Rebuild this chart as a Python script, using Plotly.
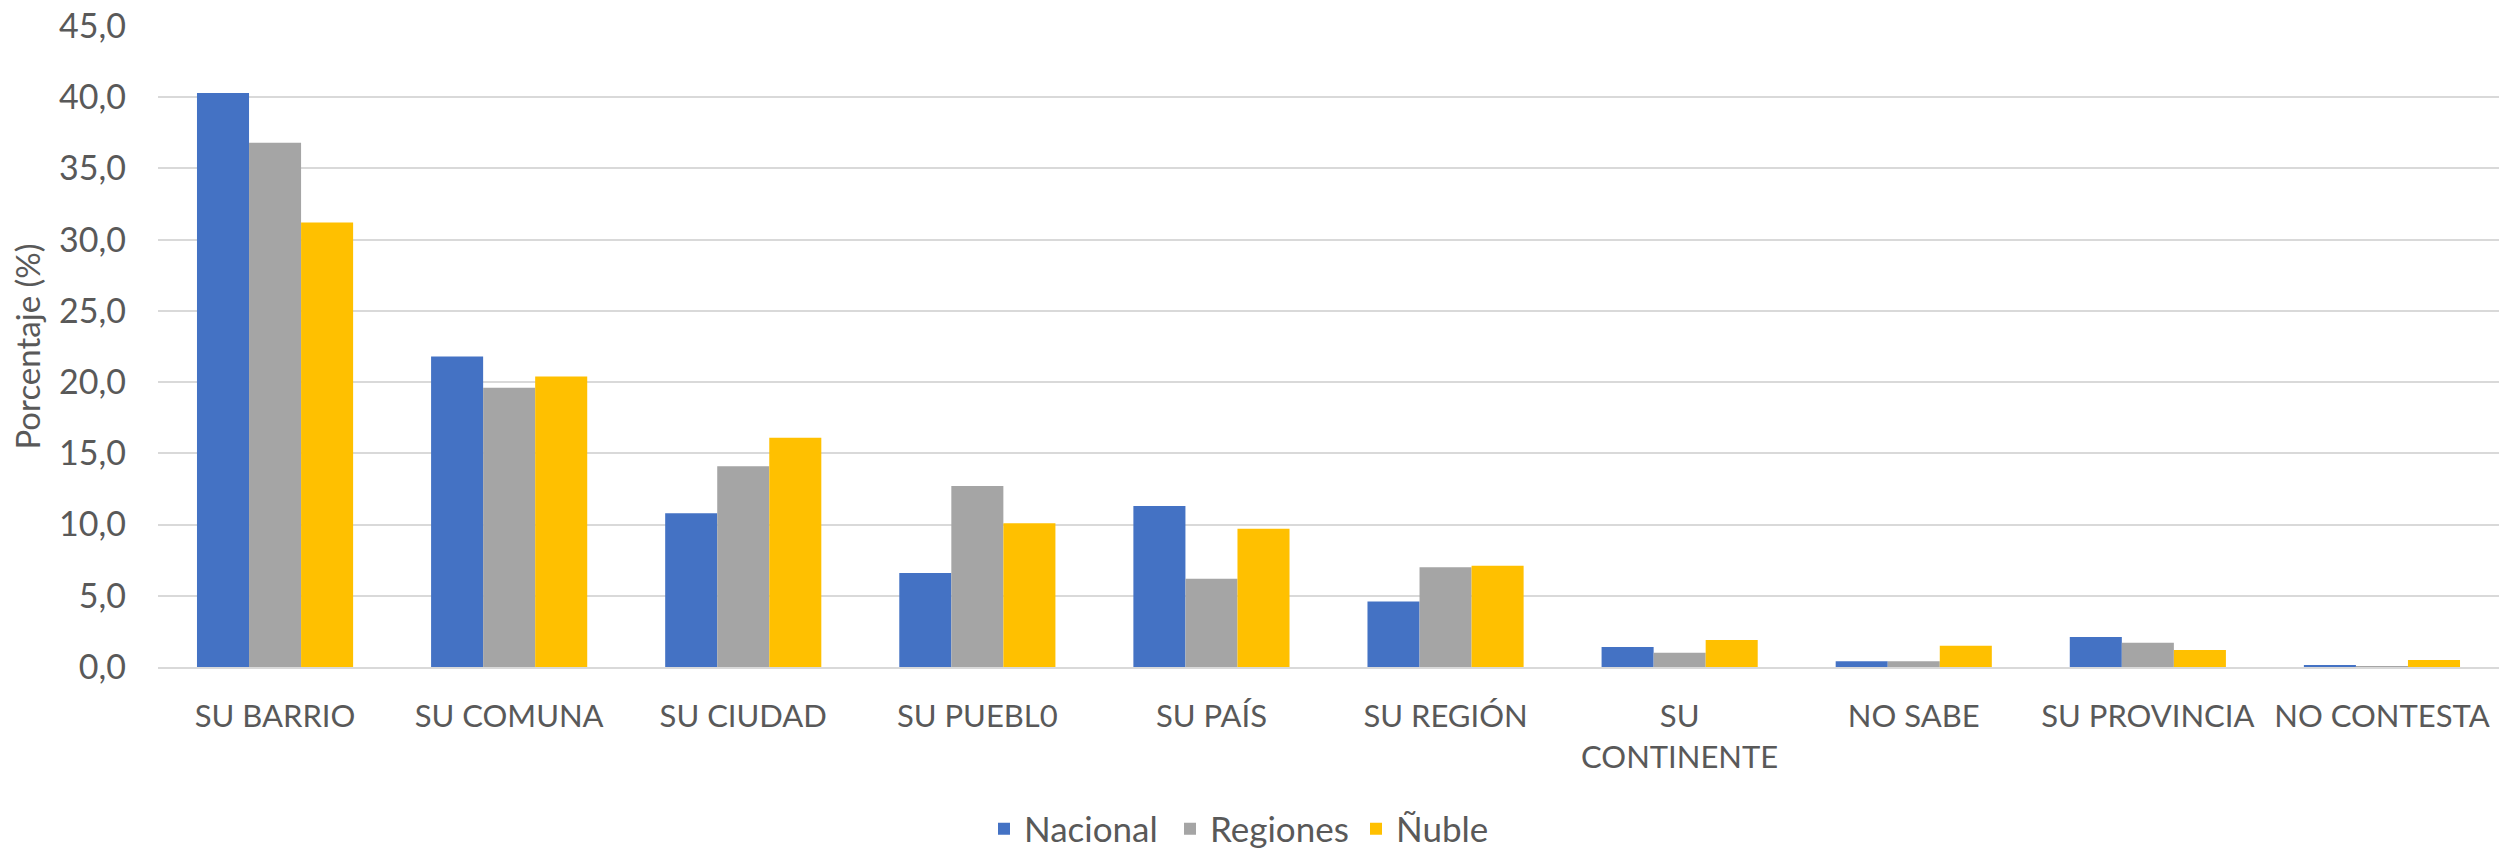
import plotly.graph_objects as go

categories = ["SU BARRIO", "SU COMUNA", "SU CIUDAD", "SU PUEBL0", "SU PAÍS",
              "SU REGIÓN", "SU<br>CONTINENTE", "NO SABE", "SU PROVINCIA", "NO CONTESTA"]
nacional = [40.3, 21.8, 10.8, 6.6, 11.3, 4.6, 1.4, 0.4, 2.1, 0.1]
regiones = [36.8, 19.6, 14.1, 12.7, 6.2, 7.0, 1.0, 0.4, 1.7, 0.05]
nuble = [31.2, 20.4, 16.1, 10.1, 9.7, 7.1, 1.9, 1.5, 1.2, 0.5]
y_ticks = [0, 5, 10, 15, 20, 25, 30, 35, 40, 45]
y_ticktext = [f"{v:.1f}".replace(".", ",") for v in y_ticks]

FONT = "Lato"
GREY = "#595959"

W, H = 2499, 848
L, R, T, B = 158, 0, 26, 181
plot_h = H - T - B

fig = go.Figure()
for name, vals, col in [("Nacional", nacional, "#4472C4"),
                        ("Regiones", regiones, "#A5A5A5"),
                        ("Ñuble", nuble, "#FFC000")]:
    fig.add_trace(go.Bar(name=name, x=categories, y=vals, marker_color=col,
                         marker_line_width=0))

fig.update_layout(
    width=W, height=H,
    margin=dict(l=L, r=R, t=T, b=B, autoexpand=False),
    plot_bgcolor="white", paper_bgcolor="white",
    barmode="group", bargap=0.333, bargroupgap=0,
    font=dict(family=FONT, size=32, color=GREY),
    legend=dict(orientation="h", x=(984 - L) / (W - L - R), xanchor="left",
                y=-(829 - (H - B)) / plot_h, yanchor="middle",
                entrywidth=141, entrywidthmode="pixels",
                font=dict(size=35, color=GREY), traceorder="normal"),
    showlegend=True,
)
fig.update_xaxes(showgrid=False, showline=True, linecolor="#d9d9d9", linewidth=2,
                 automargin=False,
                 tickfont=dict(size=31, color=GREY), ticks="", ticklabelstandoff=21)
fig.update_yaxes(range=[0, 45], tickvals=y_ticks, ticktext=y_ticktext,
                 automargin=False,
                 showgrid=True, gridcolor="#d9d9d9", gridwidth=2, zeroline=False,
                 showline=False, tickfont=dict(size=34, color=GREY), ticks="",
                 ticklabelstandoff=31,
                 title=dict(text="Porcentaje (%)", font=dict(size=33, color=GREY), standoff=8))

fig.write_html("out.html", config={"displayModeBar": False},
               post_script="document.body.style.margin='0';")
